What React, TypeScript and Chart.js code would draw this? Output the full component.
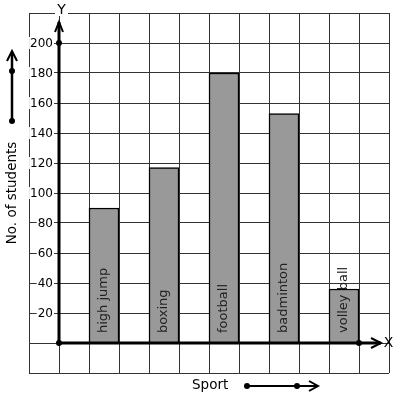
import React, { useEffect, useRef } from "react";
import { Chart, registerables } from "chart.js";

Chart.register(...registerables);

const categories = ["high jump", "boxing", "football", "badminton", "volley ball"];
const students = [90, 117, 180, 153, 36];
const yTickValues = [20, 40, 60, 80, 100, 120, 140, 160, 180, 200];
const yAxisTitle = "No. of students";
const xAxisTitle = "Sport";

// categories sit on every second grid cell, starting with the third
const slotCount = 12;
const slotLabels: string[] = Array.from({ length: slotCount }, () => "");
const slotValues: (number | null)[] = Array.from({ length: slotCount }, () => null);
categories.forEach((c, i) => {
  slotLabels[2 + i * 2] = c;
  slotValues[2 + i * 2] = students[i];
});

const FONT = "'DejaVu Sans', sans-serif";

function dot(ctx: CanvasRenderingContext2D, x: number, y: number, r = 3) {
  ctx.beginPath();
  ctx.arc(x, y, r, 0, Math.PI * 2);
  ctx.fill();
}

const overlay = {
  id: "overlay",
  afterDatasetsDraw(chart: any) {
    const ctx: CanvasRenderingContext2D = chart.ctx;
    const xs = chart.scales.x;
    const ys = chart.scales.y;
    const ox = xs.getPixelForValue(1) - (xs.getPixelForValue(1) - xs.getPixelForValue(0)) / 2;
    const oy = ys.getPixelForValue(0);
    const cell = xs.getPixelForValue(1) - xs.getPixelForValue(0);
    const area = chart.chartArea;
    ctx.save();

    // category labels inside bars
    ctx.fillStyle = "#222";
    ctx.font = `13px ${FONT}`;
    ctx.textAlign = "left";
    ctx.textBaseline = "middle";
    slotLabels.forEach((lab, i) => {
      if (!lab) return;
      const px = xs.getPixelForValue(i);
      ctx.save();
      ctx.translate(px, oy - 10);
      ctx.rotate(-Math.PI / 2);
      ctx.fillText(lab, 0, 0);
      ctx.restore();
    });

    // tick labels with white backdrop
    ctx.font = `12px ${FONT}`;
    ctx.textAlign = "right";
    ctx.textBaseline = "middle";
    yTickValues.forEach((v) => {
      const py = ys.getPixelForValue(v);
      const t = String(v);
      const w = ctx.measureText(t).width;
      const rx = ox - 6;
      ctx.fillStyle = "#fff";
      ctx.fillRect(rx - w - 1, py - 6, w + 2, 12);
      ctx.fillStyle = "#000";
      ctx.fillText(t, rx, py + 0.5);
    });

    ctx.strokeStyle = "#000";
    ctx.fillStyle = "#000";
    ctx.lineCap = "butt";

    // Y axis
    const yTop = area.top + 9;
    ctx.lineWidth = 3;
    ctx.beginPath();
    ctx.moveTo(ox, oy);
    ctx.lineTo(ox, yTop);
    ctx.stroke();
    ctx.lineWidth = 2;
    ctx.beginPath();
    ctx.moveTo(ox - 4, yTop + 10);
    ctx.lineTo(ox, yTop);
    ctx.lineTo(ox + 4, yTop + 10);
    ctx.stroke();
    dot(ctx, ox, ys.getPixelForValue(200));

    // X axis
    const xTip = area.right - 8;
    ctx.lineWidth = 3;
    ctx.beginPath();
    ctx.moveTo(ox, oy);
    ctx.lineTo(xTip, oy);
    ctx.stroke();
    ctx.lineWidth = 2;
    ctx.beginPath();
    ctx.moveTo(xTip - 10, oy - 5);
    ctx.lineTo(xTip, oy);
    ctx.lineTo(xTip - 10, oy + 5);
    ctx.stroke();
    dot(ctx, ox, oy);
    dot(ctx, ox + cell * 10, oy);

    // axis letters
    ctx.font = `14px ${FONT}`;
    ctx.textAlign = "center";
    ctx.textBaseline = "middle";
    ctx.fillStyle = "#fff";
    ctx.fillRect(ox - 4, area.top - 2, 13, 5);
    ctx.fillStyle = "#000";
    ctx.fillText("Y", ox + 2.5, area.top - 3);
    ctx.fillText("X", area.right - 0.5, oy);

    // left title + arrow
    ctx.save();
    ctx.translate(12, 193);
    ctx.rotate(-Math.PI / 2);
    ctx.font = `13.5px ${FONT}`;
    ctx.fillText(yAxisTitle, 0, 0);
    ctx.restore();
    ctx.lineWidth = 2.5;
    ctx.beginPath();
    ctx.moveTo(12, 121);
    ctx.lineTo(12, 52);
    ctx.stroke();
    ctx.lineWidth = 2;
    ctx.beginPath();
    ctx.moveTo(7, 61);
    ctx.lineTo(12, 51);
    ctx.lineTo(17, 61);
    ctx.stroke();
    dot(ctx, 12, 71);
    dot(ctx, 12, 121);

    // bottom title + arrow
    ctx.font = `13.5px ${FONT}`;
    ctx.textAlign = "left";
    ctx.fillText(xAxisTitle, 192, 385);
    ctx.lineWidth = 2;
    ctx.beginPath();
    ctx.moveTo(247, 386);
    ctx.lineTo(318, 386);
    ctx.stroke();
    ctx.beginPath();
    ctx.moveTo(309, 381);
    ctx.lineTo(318, 386);
    ctx.lineTo(309, 391);
    ctx.stroke();
    dot(ctx, 247, 386);
    dot(ctx, 297, 386);

    ctx.restore();
  },
};

export default function App() {
  const ref = useRef<HTMLCanvasElement | null>(null);
  useEffect(() => {
    if (!ref.current) return;
    const chart = new Chart(ref.current, {
      type: "bar",
      data: {
        labels: slotLabels,
        datasets: [
          {
            data: slotValues,
            backgroundColor: "#999999",
            borderColor: "#000000",
            borderWidth: 1.5,
            categoryPercentage: 1,
            barPercentage: 1,
          },
        ],
      },
      options: {
        animation: false,
        responsive: false,
        maintainAspectRatio: false,
        layout: { padding: { left: 29, right: 8, top: 13, bottom: 26 } },
        plugins: { legend: { display: false }, tooltip: { enabled: false } },
        scales: {
          x: {
            offset: true,
            grid: { color: "#333", lineWidth: 1, drawTicks: false, offset: true },
            border: { display: false },
            ticks: { display: false },
          },
          y: {
            min: -20,
            max: 220,
            grid: { color: "#333", lineWidth: 1, drawTicks: false },
            border: { display: false },
            ticks: { display: false, stepSize: 20 },
          },
        },
      },
      plugins: [overlay],
    });
    return () => chart.destroy();
  }, []);
  return (
    <div style={{ position: "absolute", left: 0, top: 0, width: 397, height: 399, background: "#fff" }}>
      <canvas ref={ref} width={397} height={399} style={{ display: "block" }} />
    </div>
  );
}
